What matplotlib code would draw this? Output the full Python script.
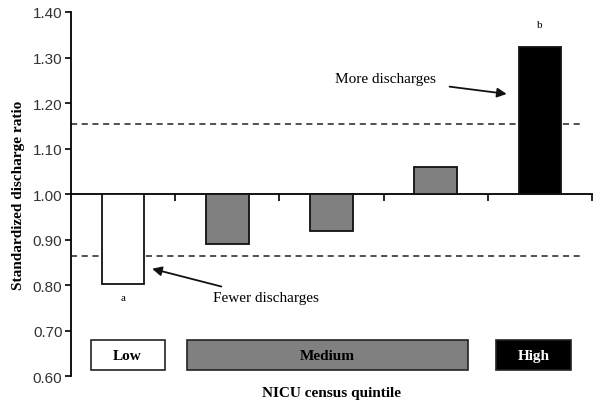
import matplotlib.pyplot as plt
from matplotlib.patches import Rectangle

quintiles = [1, 2, 3, 4, 5]
ratios = [0.803, 0.89, 0.92, 1.06, 1.322]
bar_colors = ['white', '#808080', '#808080', '#808080', 'black']
sig_labels = ['a', '', '', '', 'b']
upper_limit = 1.155
lower_limit = 0.863
groups = ['Low', 'Medium', 'High']
group_spans = [(-0.31, 0.40), (0.61, 3.31), (3.58, 4.30)]
group_colors = ['white', '#808080', 'black']
group_text = ['black', 'black', 'white']

serif = 'Liberation Serif'
sans = 'Liberation Sans'

fig = plt.figure(figsize=(6, 4.06), dpi=100)
ax = fig.add_axes([0.118, 0.071, 0.869, 0.897])

x = [q - 1 for q in quintiles]
heights = [r - 1.0 for r in ratios]
ax.bar(x, heights, bottom=1.0, width=0.41, color=bar_colors,
       edgecolor='#111111', linewidth=1.3, zorder=3)

for xi, r, s in zip(x, ratios, sig_labels):
    if not s:
        continue
    yy = r - 0.03 if r < 1 else r + 0.05
    ax.text(xi, yy, s, ha='center', va='center', fontsize=8, family=serif)

ax.plot([-0.5, 4.4], [upper_limit, upper_limit], ls=(0, (4, 3)), color='#222222', lw=1.1)
ax.plot([-0.5, 4.4], [lower_limit, lower_limit], ls=(0, (4, 3)), color='#222222', lw=1.1)

ax.annotate('More discharges', xy=(3.68, 1.22), xytext=(3.0, 1.254),
            fontsize=11, family=serif, ha='right', va='center',
            arrowprops=dict(arrowstyle='-|>', color='#111111', lw=1.3,
                            mutation_scale=14, shrinkA=8, shrinkB=0))
ax.annotate('Fewer discharges', xy=(0.28, 0.836), xytext=(0.86, 0.772),
            fontsize=11, family=serif, ha='left', va='center',
            arrowprops=dict(arrowstyle='-|>', color='#111111', lw=1.3,
                            mutation_scale=14, shrinkA=6, shrinkB=0))

for name, (x0, x1), fc, tc in zip(groups, group_spans, group_colors, group_text):
    ax.add_patch(Rectangle((x0, 0.614), x1 - x0, 0.065, facecolor=fc,
                           edgecolor='#222222', linewidth=1.2, zorder=3))
    ax.text((x0 + x1) / 2, 0.646, name, ha='center', va='center', color=tc,
            fontsize=11, fontweight='bold', family=serif, zorder=4)

ax.set_xlim(-0.5, 4.5)
ax.set_ylim(0.6, 1.4)
ax.set_yticks([0.6, 0.7, 0.8, 0.9, 1.0, 1.1, 1.2, 1.3, 1.4])
ax.set_yticklabels(['%.2f' % v for v in ax.get_yticks()], family=sans, fontsize=11, color='#333333')
ax.set_xticks([0.5, 1.5, 2.5, 3.5, 4.5])
ax.set_xticklabels([])

ax.spines['top'].set_visible(False)
ax.spines['right'].set_visible(False)
ax.spines['bottom'].set_position(('data', 1.0))
ax.spines['bottom'].set_linewidth(1.3)
ax.spines['left'].set_linewidth(1.3)
ax.tick_params(axis='y', direction='out', length=4, width=1.2, pad=2)
ax.tick_params(axis='x', direction='out', length=5, width=1.2)

ax.set_ylabel('Standardized discharge ratio', family=serif, fontweight='bold', fontsize=11, labelpad=6)
ax.text(2.0, 0.565, 'NICU census quintile', ha='center', va='center',
        family=serif, fontweight='bold', fontsize=11)

fig.savefig('out.png', dpi=100)
